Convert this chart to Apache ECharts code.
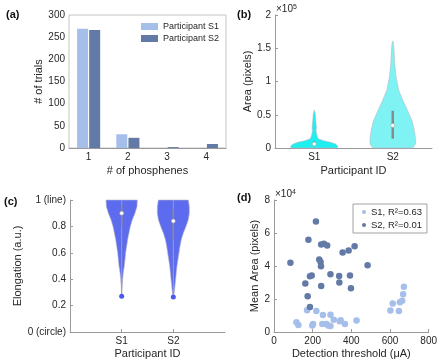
<!DOCTYPE html>
<html>
<head>
<meta charset="utf-8">
<script src="https://cdn.jsdelivr.net/npm/echarts@6/dist/echarts.min.js"></script>
<style>
html, body { margin: 0; padding: 0; background: #fff; }
#chart { width: 440px; height: 362px; }
</style>
</head>
<body>
<div id="chart"></div>
<script>
// (a) number of phosphenes per trial
const phospheneCats = ['1', '2', '3', '4'];
const trialsS1 = [269, 31, 0, 0];
const trialsS2 = [266, 23, 2, 9];

// (b) violin profiles: [area (x1e5), half width]
const areaS1 = [[0, 0.29], [0.01, 0.30], [0.03, 0.30], [0.06, 0.27], [0.085, 0.21], [0.11, 0.12],
  [0.14, 0.05], [0.19, 0.034], [0.26, 0.022], [0.30, 0.028], [0.34, 0.025], [0.40, 0.02],
  [0.46, 0.016], [0.52, 0.012], [0.57, 0]];
const areaS2 = [[0, 0.255], [0.06, 0.29], [0.14, 0.29], [0.26, 0.276], [0.41, 0.246], [0.56, 0.19],
  [0.72, 0.127], [0.87, 0.076], [1.07, 0.042], [1.27, 0.025], [1.47, 0.017], [1.58, 0.008], [1.61, 0]];
const areaQ1 = [0.03, 0.14];
const areaMedian = [0.06, 0.34];
const areaQ3 = [0.10, 0.56];

// (c) violin profiles: [elongation, half width]
const elongS1 = [[0.28, 0], [0.35, 0.01], [0.40, 0.019], [0.45, 0.032], [0.50, 0.052], [0.55, 0.065],
  [0.60, 0.077], [0.65, 0.097], [0.70, 0.116], [0.75, 0.142], [0.80, 0.168], [0.85, 0.206],
  [0.90, 0.258], [0.95, 0.297], [1.0, 0.303]];
const elongS2 = [[0.27, 0.006], [0.30, 0.019], [0.35, 0.032], [0.40, 0.045], [0.45, 0.058], [0.50, 0.071],
  [0.55, 0.09], [0.60, 0.11], [0.65, 0.129], [0.70, 0.155], [0.75, 0.194], [0.80, 0.245],
  [0.85, 0.29], [0.90, 0.31], [0.95, 0.31], [1.0, 0.29]];
const elongMin = [0.27, 0.265];
const elongMax = [1.0, 1.0];
const elongQ1 = [0.80, 0.70];
const elongMedian = [0.90, 0.84];
const elongQ3 = [0.97, 0.93];

// (d) detection threshold (uA) vs mean area (x1e4)
const meanAreaS1 = [[171, 1.32], [219, 1.28], [116, 0.59], [126, 0.43], [198, 0.40], [202, 0.49],
  [250, 0.49], [253, 1.03], [272, 0.49], [280, 0.40], [292, 1.05], [292, 0.36], [309, 0.75],
  [340, 0.65], [345, 0.71], [367, 0.49], [427, 0.69], [602, 1.30], [614, 1.72], [646, 1.28],
  [651, 1.80], [663, 1.90], [668, 2.29], [672, 2.75]];
const meanAreaS2 = [[85, 4.19], [217, 6.70], [178, 5.59], [244, 5.31], [258, 5.35], [275, 5.24],
  [234, 4.39], [241, 4.25], [243, 3.99], [186, 3.38], [195, 3.42], [292, 3.50], [337, 3.40],
  [338, 3.00], [393, 3.42], [162, 2.94], [244, 2.79], [398, 2.65], [174, 2.17], [186, 1.52],
  [355, 4.82], [386, 4.94], [417, 5.20], [484, 4.05]];

const FONT = 'Liberation Sans';
const LIGHT = '#a5bfea';
const DARK = '#637aa6';

function axis(extra) {
  return Object.assign({
    axisLine: { lineStyle: { color: '#9a9a9a', width: 1 } },
    axisTick: { inside: true, length: 3, lineStyle: { color: '#9a9a9a' } },
    axisLabel: { color: '#262626', fontSize: 10, fontFamily: FONT, margin: 4 },
    splitLine: { show: false },
    nameLocation: 'middle',
    nameTextStyle: { color: '#262626', fontSize: 11, fontFamily: FONT },
  }, extra);
}

function violin(idx, profiles, fills) {
  return {
    type: 'custom',
    xAxisIndex: idx,
    yAxisIndex: idx,
    silent: true,
    data: profiles.map((p, i) => [i + 1]),
    renderItem(params, api) {
      const prof = profiles[params.dataIndex];
      const x = params.dataIndex + 1;
      const right = prof.map(([v, w]) => api.coord([x + w, v]));
      const left = prof.slice().reverse().map(([v, w]) => api.coord([x - w, v]));
      return {
        type: 'polygon',
        shape: { points: right.concat(left) },
        style: { fill: fills[params.dataIndex], stroke: '#b8b8c8', lineWidth: 0.6 },
      };
    },
  };
}

function boxes(idx, q1, med, q3, lo, hi, barW) {
  return {
    type: 'custom',
    xAxisIndex: idx,
    yAxisIndex: idx,
    silent: true,
    z: 5,
    data: med.map((m, i) => [i + 1]),
    renderItem(params, api) {
      const i = params.dataIndex;
      const x = i + 1;
      const children = [];
      if (lo) {
        const a = api.coord([x, lo[i]]);
        const b = api.coord([x, hi[i]]);
        children.push({ type: 'line', shape: { x1: a[0], y1: a[1], x2: b[0], y2: b[1] },
          style: { stroke: '#a0a0a0', lineWidth: 1 } });
        children.push({ type: 'circle', shape: { cx: a[0], cy: a[1], r: 2.5 },
          style: { fill: '#4a58ee' } });
      }
      const p1 = api.coord([x, q1[i]]);
      const p3 = api.coord([x, q3[i]]);
      children.push({ type: 'line', shape: { x1: p1[0], y1: p1[1], x2: p3[0], y2: p3[1] },
        style: { stroke: '#8a8a8a', lineWidth: barW } });
      const pm = api.coord([x, med[i]]);
      children.push({ type: 'circle', shape: { cx: pm[0], cy: pm[1], r: 2 },
        style: { fill: '#fff', stroke: '#9a9a9a', lineWidth: 0.5 } });
      return { type: 'group', children };
    },
  };
}

const participantLabel = (v) => ({ 1: 'S1', 2: 'S2' }[v] || '');

const option = {
  animation: false,
  textStyle: { fontFamily: FONT },
  grid: [
    { left: 69, top: 15, width: 157, height: 133, show: true, borderColor: '#c4c4c4', borderWidth: 1 },
    { left: 275, top: 15, width: 157, height: 133 },
    { left: 70, top: 200, width: 155, height: 132 },
    { left: 274, top: 200, width: 156, height: 132 },
  ],
  xAxis: [
    axis({ gridIndex: 0, type: 'category', data: phospheneCats, name: '# of phosphenes', nameGap: 17,
      axisTick: { inside: true, length: 3, alignWithLabel: true, lineStyle: { color: '#9a9a9a' } } }),
    axis({ gridIndex: 1, type: 'value', min: 0.5, max: 2.5, name: 'Participant ID', nameGap: 17,
      axisLabel: { color: '#262626', fontSize: 10, fontFamily: FONT, margin: 4, customValues: [1, 2], formatter: participantLabel },
      axisTick: { inside: true, length: 3, customValues: [1, 2], lineStyle: { color: '#9a9a9a' } } }),
    axis({ gridIndex: 2, type: 'value', min: 0, max: 3, name: 'Participant ID', nameGap: 16,
      axisLabel: { color: '#262626', fontSize: 10, fontFamily: FONT, margin: 4, customValues: [1, 2], formatter: participantLabel },
      axisTick: { inside: true, length: 3, customValues: [1, 2], lineStyle: { color: '#9a9a9a' } } }),
    axis({ gridIndex: 3, type: 'value', min: 0, max: 800, interval: 200, name: 'Detection threshold (\u03bcA)', nameGap: 16 }),
  ],
  yAxis: [
    axis({ gridIndex: 0, type: 'value', min: 0, max: 300, interval: 50, name: '# of trials', nameGap: 17 }),
    axis({ gridIndex: 1, type: 'value', min: 0, max: 2, interval: 0.5, name: 'Area (pixels)', nameGap: 13 }),
    axis({ gridIndex: 2, type: 'value', min: 0, max: 1, interval: 0.2, name: 'Elongation (a.u.)', nameGap: 36,
      axisLabel: { color: '#262626', fontSize: 10, fontFamily: FONT, margin: 4,
        formatter: (v) => (v === 0 ? '0 (circle)' : v === 1 ? '1 (line)' : v.toFixed(1)) } }),
    axis({ gridIndex: 3, type: 'value', min: 0, max: 8, interval: 2, name: 'Mean Area (pixels)', nameGap: 4 }),
  ],
  legend: [
    {
      data: ['Participant S1', 'Participant S2'],
      orient: 'vertical', left: 141, top: 22, padding: 0, itemGap: 3,
      itemWidth: 17, itemHeight: 7, icon: 'rect',
      textStyle: { fontSize: 9, color: '#262626', fontFamily: FONT },
    },
    {
      data: ['S1, R\u00b2=0.63', 'S2, R\u00b2=0.01'],
      orient: 'vertical', left: 353, top: 204, padding: [3, 5, 3, 9], itemGap: 3,
      itemWidth: 4, itemHeight: 4, icon: 'circle',
      borderColor: '#8a8a8a', borderWidth: 0.8,
      textStyle: { fontSize: 9.5, color: '#262626', fontFamily: FONT },
    },
  ],
  graphic: [
    { type: 'text', left: 6, top: 9, style: { text: '(a)', font: 'bold 11px ' + FONT, fill: '#111' } },
    { type: 'text', left: 237, top: 9, style: { text: '(b)', font: 'bold 11px ' + FONT, fill: '#111' } },
    { type: 'text', left: 4, top: 196, style: { text: '(c)', font: 'bold 11px ' + FONT, fill: '#111' } },
    { type: 'text', left: 237, top: 192, style: { text: '(d)', font: 'bold 11px ' + FONT, fill: '#111' } },
    { type: 'text', left: 276, top: 4, style: { text: '\u00d710{s|5}', font: '10px ' + FONT, fill: '#262626',
      rich: { s: { fontSize: 7, verticalAlign: 'top', padding: [0, 0, 4, 0] } } } },
    { type: 'text', left: 275, top: 189, style: { text: '\u00d710{s|4}', font: '10px ' + FONT, fill: '#262626',
      rich: { s: { fontSize: 7, verticalAlign: 'top', padding: [0, 0, 4, 0] } } } },
  ],
  series: [
    { name: 'Participant S1', type: 'bar', xAxisIndex: 0, yAxisIndex: 0, data: trialsS1,
      barWidth: 11, barGap: '10%', itemStyle: { color: LIGHT } },
    { name: 'Participant S2', type: 'bar', xAxisIndex: 0, yAxisIndex: 0, data: trialsS2,
      barWidth: 11, barGap: '10%', itemStyle: { color: DARK } },
    violin(1, [areaS1, areaS2], ['#1ef0f0', '#7ff3f3']),
    boxes(1, areaQ1, areaMedian, areaQ3, null, null, 2.5),
    violin(2, [elongS1, elongS2], ['#5d6bef', '#5d6bef']),
    boxes(2, elongQ1, elongMedian, elongQ3, elongMin, elongMax, 1.5),
    { name: 'S1, R\u00b2=0.63', type: 'scatter', xAxisIndex: 3, yAxisIndex: 3, data: meanAreaS1,
      symbolSize: 6.5, itemStyle: { color: LIGHT, opacity: 1 } },
    { name: 'S2, R\u00b2=0.01', type: 'scatter', xAxisIndex: 3, yAxisIndex: 3, data: meanAreaS2,
      symbolSize: 6.5, itemStyle: { color: DARK, opacity: 1 } },
  ],
};

const chart = echarts.init(document.getElementById('chart'), null, { renderer: 'canvas' });
chart.setOption(option);
</script>
</body>
</html>
